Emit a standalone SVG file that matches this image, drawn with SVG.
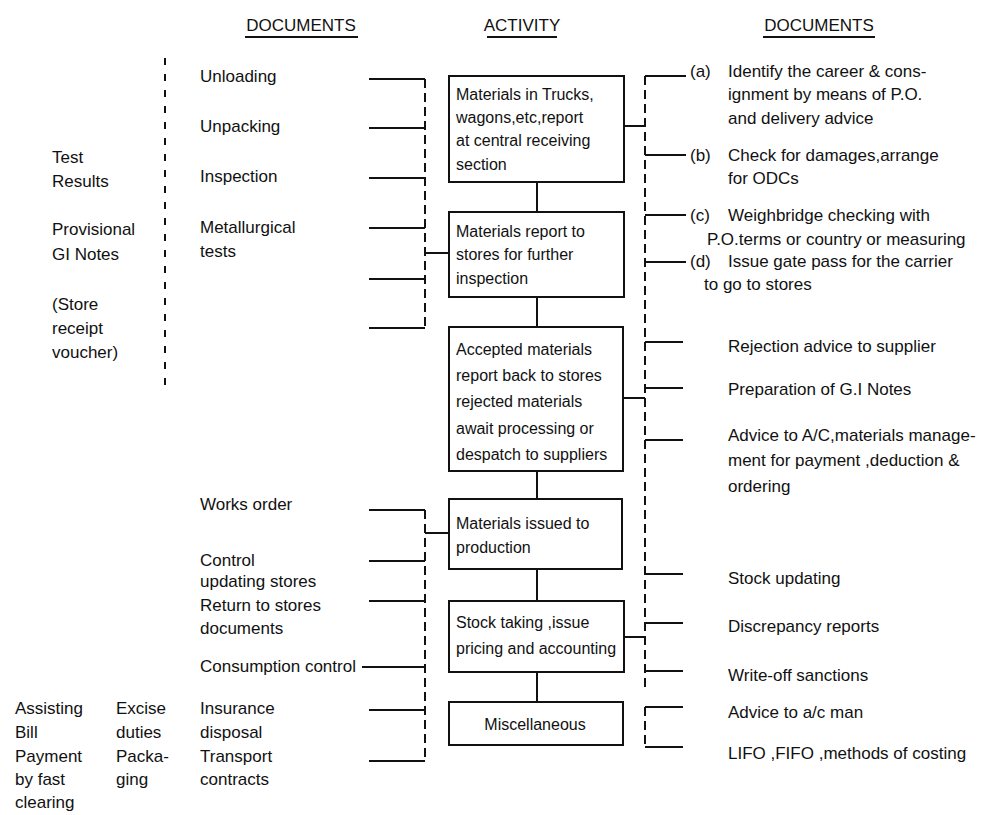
<svg xmlns="http://www.w3.org/2000/svg" width="1000" height="815" viewBox="0 0 1000 815">
<style>
text{font-family:"Liberation Sans",Arial,sans-serif;font-size:17px;fill:#111}
.bt{font-size:16px}
.box{fill:#fff;stroke:#111;stroke-width:2}
.ln{stroke:#111;stroke-width:2;fill:none}
.dash{stroke:#111;stroke-width:2;fill:none;stroke-dasharray:9 5}
.sparse{stroke:#111;stroke-width:2;fill:none;stroke-dasharray:7 9}
.c{text-anchor:middle}
</style>
<rect width="1000" height="815" fill="#fff"/>
<g id="headers">
<text x="301" y="31" class="c">DOCUMENTS</text>
<line class="ln" x1="245" y1="37" x2="358" y2="37"/>
<text x="522" y="31" class="c">ACTIVITY</text>
<line class="ln" x1="487" y1="37" x2="557" y2="37"/>
<text x="819" y="31" class="c">DOCUMENTS</text>
<line class="ln" x1="763" y1="37" x2="875" y2="37"/>
</g>
<g id="connectors">
<line class="sparse" x1="165" y1="58" x2="165" y2="385"/>
<line class="dash" x1="425" y1="79" x2="425" y2="328"/>
<path class="ln" d="M369,79H425M369,128H425M369,178H425M369,228H425M369,279H425M369,328H425M425,253H449"/>
<line class="dash" x1="425" y1="510" x2="425" y2="761"/>
<path class="ln" d="M369,510H425M369,561H425M369,601H425M362,667H425M369,710H425M369,761H425M425,533H449"/>
<path class="ln" d="M537,182V212M537,297V327M537,471V499M537,569V601M537,672V702"/>
<line class="dash" x1="645" y1="76" x2="645" y2="692"/>
<path class="ln" d="M645,76H686M645,155H686M645,215H686M645,262H686M645,342H683M645,388H683M645,440H683M645,574H683M645,623H683M645,671H683M624,126H645M623,398H645M622,637H645"/>
<line class="dash" x1="645" y1="707" x2="645" y2="747"/>
<path class="ln" d="M645,707H683M645,747H683"/>
</g>
<g id="node-box1"><rect class="box" x="449" y="76" width="175" height="106"/>
<text class="bt" x="456" y="100">Materials in Trucks,</text>
<text class="bt" x="456" y="123">wagons,etc,report</text>
<text class="bt" x="456" y="146">at central receiving</text>
<text class="bt" x="456" y="170">section</text></g>
<g id="node-box2"><rect class="box" x="449" y="212" width="175" height="85"/>
<text class="bt" x="456" y="237">Materials report to</text>
<text class="bt" x="456" y="260">stores for further</text>
<text class="bt" x="456" y="284">inspection</text></g>
<g id="node-box3"><rect class="box" x="449" y="327" width="174" height="144"/>
<text class="bt" x="456" y="355">Accepted materials</text>
<text class="bt" x="456" y="381">report back to stores</text>
<text class="bt" x="456" y="407">rejected materials</text>
<text class="bt" x="456" y="434">await processing or</text>
<text class="bt" x="456" y="460">despatch to suppliers</text></g>
<g id="node-box4"><rect class="box" x="449" y="499" width="173" height="70"/>
<text class="bt" x="456" y="529">Materials issued to</text>
<text class="bt" x="456" y="553">production</text></g>
<g id="node-box5"><rect class="box" x="449" y="601" width="175" height="71"/>
<text class="bt" x="456" y="628">Stock taking ,issue</text>
<text class="bt" x="456" y="654">pricing and accounting</text></g>
<g id="node-box6"><rect class="box" x="449" y="702" width="174" height="43"/>
<text class="bt c" x="535" y="730">Miscellaneous</text></g>
<g id="left-docs">
<text x="52" y="163">Test</text>
<text x="52" y="187">Results</text>
<text x="52" y="235">Provisional</text>
<text x="52" y="260">GI Notes</text>
<text x="52" y="310">(Store</text>
<text x="52" y="334">receipt</text>
<text x="52" y="358">voucher)</text>
<text x="200" y="82">Unloading</text>
<text x="200" y="132">Unpacking</text>
<text x="200" y="182">Inspection</text>
<text x="200" y="233">Metallurgical</text>
<text x="200" y="257">tests</text>
<text x="200" y="510">Works order</text>
<text x="200" y="566">Control</text>
<text x="200" y="587">updating  stores</text>
<text x="200" y="611">Return to stores</text>
<text x="200" y="634">documents</text>
<text x="200" y="672">Consumption control</text>
<text x="200" y="714">Insurance</text>
<text x="200" y="738">disposal</text>
<text x="200" y="762">Transport</text>
<text x="200" y="785">contracts</text>
<text x="116" y="714">Excise</text>
<text x="116" y="738">duties</text>
<text x="116" y="762">Packa-</text>
<text x="116" y="785">ging</text>
<text x="15" y="714">Assisting</text>
<text x="15" y="738">Bill</text>
<text x="15" y="762">Payment</text>
<text x="15" y="785">by fast</text>
<text x="15" y="808">clearing</text>
</g>
<g id="right-docs">
<text x="690" y="77">(a)</text>
<text x="728" y="77">Identify the career &amp; cons-</text>
<text x="728" y="100">ignment by means of P.O.</text>
<text x="728" y="124">and delivery advice</text>
<text x="690" y="161">(b)</text>
<text x="728" y="161">Check for damages,arrange</text>
<text x="728" y="184">for ODCs</text>
<text x="690" y="221">(c)</text>
<text x="728" y="221">Weighbridge checking with</text>
<text x="707" y="245">P.O.terms or country or measuring</text>
<text x="690" y="267">(d)</text>
<text x="728" y="267">Issue gate pass for the carrier</text>
<text x="704" y="290">to go to stores</text>
<text x="728" y="352">Rejection advice to supplier</text>
<text x="728" y="395">Preparation of G.I Notes</text>
<text x="728" y="441">Advice to A/C,materials manage-</text>
<text x="728" y="466">ment for payment ,deduction &amp;</text>
<text x="728" y="492">ordering</text>
<text x="728" y="584">Stock updating</text>
<text x="728" y="632">Discrepancy reports</text>
<text x="728" y="681">Write-off sanctions</text>
<text x="728" y="718">Advice to a/c man</text>
<text x="728" y="759">LIFO ,FIFO ,methods of costing</text>
</g>
</svg>
